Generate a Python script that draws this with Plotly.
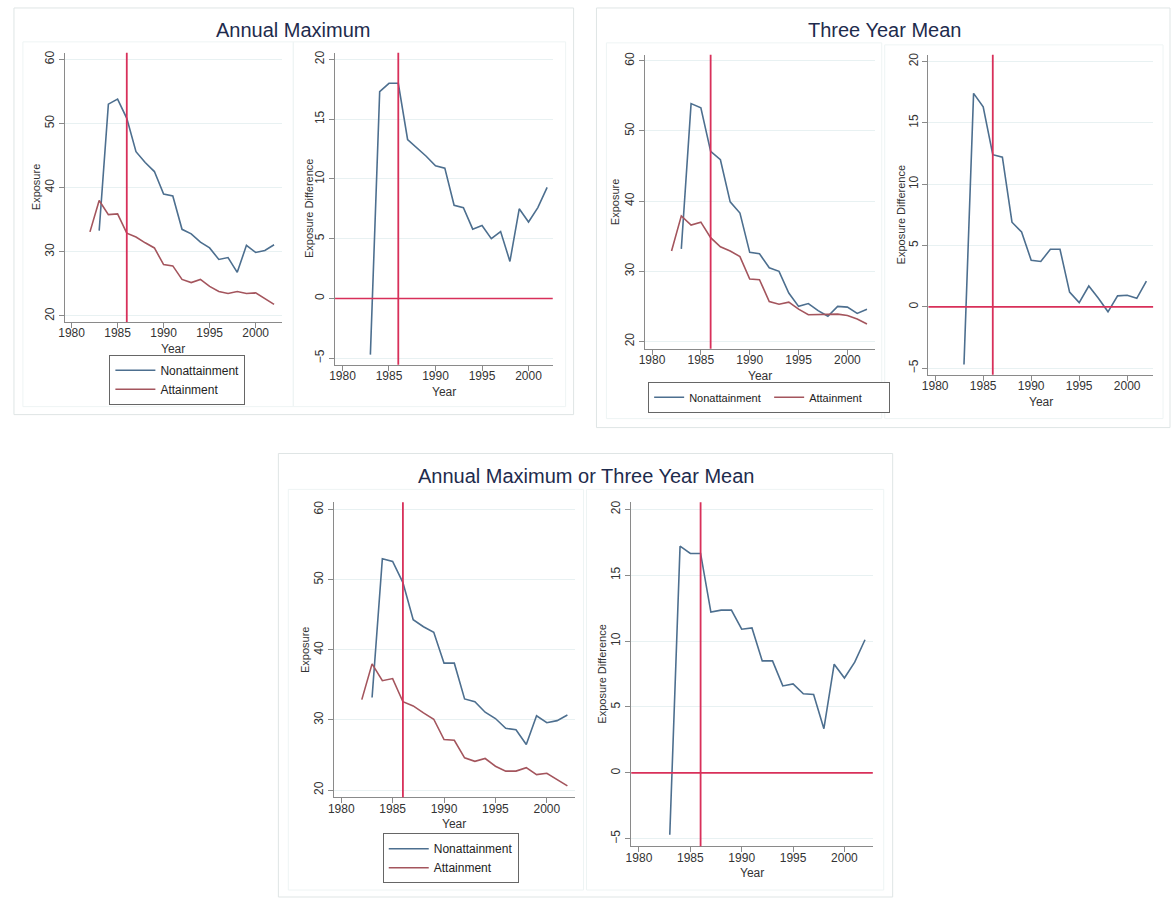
import plotly.graph_objects as go

# ---------------- data ----------------
YEARS_ATT = list(range(1982, 2003))
YEARS_NON = list(range(1983, 2003))
YEARS_DIFF = list(range(1983, 2003))

REFERENCE_YEAR = 1986
ZERO_LEVEL = 0

PANEL_TITLES = ["Annual Maximum", "Three Year Mean", "Annual Maximum or Three Year Mean"]
SERIES_NAMES = ["Nonattainment", "Attainment"]
X_TITLE = "Year"
Y_TITLES = ["Exposure", "Exposure Difference"]
X_TICKS = [1980, 1985, 1990, 1995, 2000]
EXPOSURE_TICKS = [20, 30, 40, 50, 60]
DIFF_TICKS = [-5, 0, 5, 10, 15, 20]

# Annual Maximum
am_nonattain = [33.3, 53.0, 53.8, 50.8, 45.6, 43.9, 42.5, 39.0, 38.7, 33.5,
                32.8, 31.5, 30.6, 28.8, 29.1, 26.8, 31.0, 29.9, 30.2, 31.1]
am_attain = [33.1, 38.0, 35.8, 35.9, 32.9, 32.3, 31.4, 30.6, 28.0, 27.8, 25.7,
             25.2, 25.7, 24.6, 23.8, 23.5, 23.8, 23.5, 23.6, 22.7, 21.8]
am_diff = [-4.7, 17.3, 18.0, 18.0, 13.3, 12.6, 11.9, 11.1, 10.9, 7.8,
           7.6, 5.8, 6.1, 5.0, 5.6, 3.1, 7.5, 6.4, 7.6, 9.3]

# Three Year Mean
tm_nonattain = [33.2, 53.9, 53.3, 47.1, 45.9, 39.9, 38.3, 32.7, 32.5, 30.5,
                30.0, 26.9, 25.0, 25.4, 24.4, 23.6, 25.0, 24.9, 24.0, 24.6]
tm_attain = [32.9, 37.9, 36.6, 37.0, 34.8, 33.5, 32.9, 32.1, 28.9, 28.8, 25.7,
             25.3, 25.6, 24.6, 23.8, 23.8, 23.9, 23.9, 23.7, 23.2, 22.5]
tm_diff = [-4.7, 17.4, 16.3, 12.4, 12.2, 6.9, 6.1, 3.8, 3.7, 4.7,
           4.7, 1.2, 0.35, 1.7, 0.7, -0.4, 0.9, 0.95, 0.7, 2.1]

# Annual Maximum or Three Year Mean
ao_nonattain = [33.2, 53.0, 52.6, 49.6, 44.3, 43.3, 42.5, 38.1, 38.1, 33.0,
                32.6, 31.1, 30.2, 28.8, 28.6, 26.5, 30.6, 29.6, 29.9, 30.7]
ao_attain = [32.9, 38.0, 35.6, 35.9, 32.6, 32.0, 31.0, 30.1, 27.2, 27.1, 24.6,
             24.1, 24.5, 23.4, 22.7, 22.7, 23.2, 22.2, 22.4, 21.5, 20.6]
ao_diff = [-4.7, 17.2, 16.65, 16.65, 12.2, 12.35, 12.35, 10.9, 11.0, 8.5,
           8.5, 6.6, 6.75, 6.0, 5.95, 3.35, 8.25, 7.2, 8.4, 10.1]

# ---------------- layout helpers ----------------
W, H = 1172, 899
def fx(px):
    return px / W
def fy(py):
    return 1 - py / H

BLUE = "#4d6f8f"
MAROON = "#a4555d"
RED = "#d8305a"
GRID = "#e8f1f2"
AXIS = "#8a8a8a"
FONT = "Liberation Sans, Arial, sans-serif"
TICKFONT = dict(family=FONT, size=12, color="#333333")

fig = go.Figure()

# (xpix, ypix, xrange, yrange, kind, y-title x position)
subplots = [
    ((58, 277), (50, 320), (1979.25, 2002.9), (19.07, 61.0), "exp", 30),
    ((330, 549), (50, 363), (1979.2, 2002.6), (-5.55, 20.55), "diff", 304),
    ((642, 873), (52, 347), (1979.3, 2002.8), (18.95, 60.85), "exp", 611),
    ((927, 1153), (52, 373), (1979.3, 2002.7), (-5.53, 20.54), "diff", 899),
    ((329, 571), (501, 797), (1979.3, 2002.7), (18.96, 61.04), "exp", 300),
    ((628, 871), (501, 846), (1979.25, 2002.76), (-5.56, 20.53), "diff", 599),
]

panel_data = [
    (am_nonattain, am_attain, am_diff),
    (tm_nonattain, tm_attain, tm_diff),
    (ao_nonattain, ao_attain, ao_diff),
]
legend_names = ["legend", "legend2", "legend3"]

for i, (xp, yp, xr, yr, kind, ytx) in enumerate(subplots):
    n = i + 1
    xa = "xaxis" if n == 1 else f"xaxis{n}"
    ya = "yaxis" if n == 1 else f"yaxis{n}"
    xref = "x" if n == 1 else f"x{n}"
    yref = "y" if n == 1 else f"y{n}"
    fig.layout[xa] = dict(
        domain=[fx(xp[0]), fx(xp[1])], range=list(xr), anchor=yref,
        tickvals=X_TICKS, showgrid=False, zeroline=False,
        showline=True, linecolor=AXIS, linewidth=1.3,
        ticks="outside", ticklen=5, tickcolor=AXIS, tickfont=TICKFONT,
        ticklabelstandoff=-5,
    )
    ticks = EXPOSURE_TICKS if kind == "exp" else DIFF_TICKS
    fig.layout[ya] = dict(
        domain=[fy(yp[1]), fy(yp[0])], range=list(yr), anchor=xref,
        tickvals=ticks, tickangle=-90, showgrid=True, gridcolor=GRID, gridwidth=1,
        zeroline=False, showline=True, linecolor=AXIS, linewidth=1.3,
        ticks="outside", ticklen=5, tickcolor=AXIS, tickfont=TICKFONT,
    )
    # axis titles placed just outside the tick labels
    fig.add_annotation(text=X_TITLE, xref="paper", yref="paper",
                       x=fx((xp[0] + xp[1]) / 2), y=fy(yp[1] + 27),
                       showarrow=False, xanchor="center", yanchor="middle",
                       font=dict(family=FONT, size=12, color="#333333"))
    fig.add_annotation(text=Y_TITLES[0] if kind == "exp" else Y_TITLES[1],
                       xref="paper", yref="paper", x=fx(ytx), y=fy((yp[0] + yp[1]) / 2),
                       showarrow=False, xanchor="center", yanchor="middle", textangle=-90,
                       font=dict(family=FONT, size=11, color="#333333"))
    p = i // 2
    non, att, diff = panel_data[p]
    if kind == "exp":
        fig.add_trace(go.Scatter(x=YEARS_NON, y=non, mode="lines", name=SERIES_NAMES[0],
                                 line=dict(color=BLUE, width=1.6), xaxis=xref, yaxis=yref,
                                 legend=legend_names[p]))
        fig.add_trace(go.Scatter(x=YEARS_ATT, y=att, mode="lines", name=SERIES_NAMES[1],
                                 line=dict(color=MAROON, width=1.6), xaxis=xref, yaxis=yref,
                                 legend=legend_names[p]))
    else:
        fig.add_trace(go.Scatter(x=YEARS_DIFF, y=diff, mode="lines", showlegend=False,
                                 line=dict(color=BLUE, width=1.6), xaxis=xref, yaxis=yref))
        fig.add_shape(type="line", xref=f"{xref} domain", x0=0, x1=1, yref=yref,
                      y0=ZERO_LEVEL, y1=ZERO_LEVEL, line=dict(color=RED, width=1.6), layer="above")
    fig.add_shape(type="line", xref=xref, x0=REFERENCE_YEAR, x1=REFERENCE_YEAR,
                  yref=f"{yref} domain", y0=0, y1=1, line=dict(color=RED, width=1.8), layer="above")

# panel boxes (outer) and subplot region boxes (inner)
outer = [(7, 5, 570, 413), (593, 5, 1170, 426), (273, 452, 891, 897)]
inner = [(16, 39, 288, 405), (288, 39, 562, 405),
         (603, 40, 880, 417), (883, 42, 1163, 417),
         (283, 488, 580, 890), (583, 488, 882, 890)]
for (x0, y0, x1, y1) in outer:
    fig.add_shape(type="rect", xref="paper", yref="paper", x0=fx(x0), x1=fx(x1),
                  y0=fy(y1), y1=fy(y0), line=dict(color="#dfe5e5", width=1), layer="below")
for (x0, y0, x1, y1) in inner:
    fig.add_shape(type="rect", xref="paper", yref="paper", x0=fx(x0), x1=fx(x1),
                  y0=fy(y1), y1=fy(y0), line=dict(color="#eef4f4", width=1), layer="below")

# panel titles
title_pos = [(288, 27), (883, 27), (582, 475)]
for t, (x, y) in zip(PANEL_TITLES, title_pos):
    fig.add_annotation(text=t, xref="paper", yref="paper", x=fx(x), y=fy(y),
                       showarrow=False, xanchor="center", yanchor="middle",
                       font=dict(family=FONT, size=20, color="#1e2b4d"))

legend_common = dict(bgcolor="white", bordercolor="#666666", borderwidth=1,
                     xanchor="left", yanchor="top", tracegroupgap=0)
LEGFONT12 = dict(family=FONT, size=12, color="#222222")
LEGFONT11 = dict(family=FONT, size=11, color="#222222")
fig.update_layout(
    width=W, height=H, margin=dict(l=0, r=0, t=0, b=0),
    paper_bgcolor="white", plot_bgcolor="white",
    legend=dict(x=fx(103), y=fy(353), orientation="v", itemwidth=40, font=LEGFONT12,
                **legend_common),
    legend2=dict(x=fx(645), y=fy(380), orientation="h", itemwidth=30, entrywidth=75,
                 font=LEGFONT11, **legend_common),
    legend3=dict(x=fx(378), y=fy(833), orientation="v", itemwidth=40, font=LEGFONT12,
                 **legend_common),
)

fig.write_html("out.html", config={"displayModeBar": False},
               post_script="document.body.style.margin='0';")
